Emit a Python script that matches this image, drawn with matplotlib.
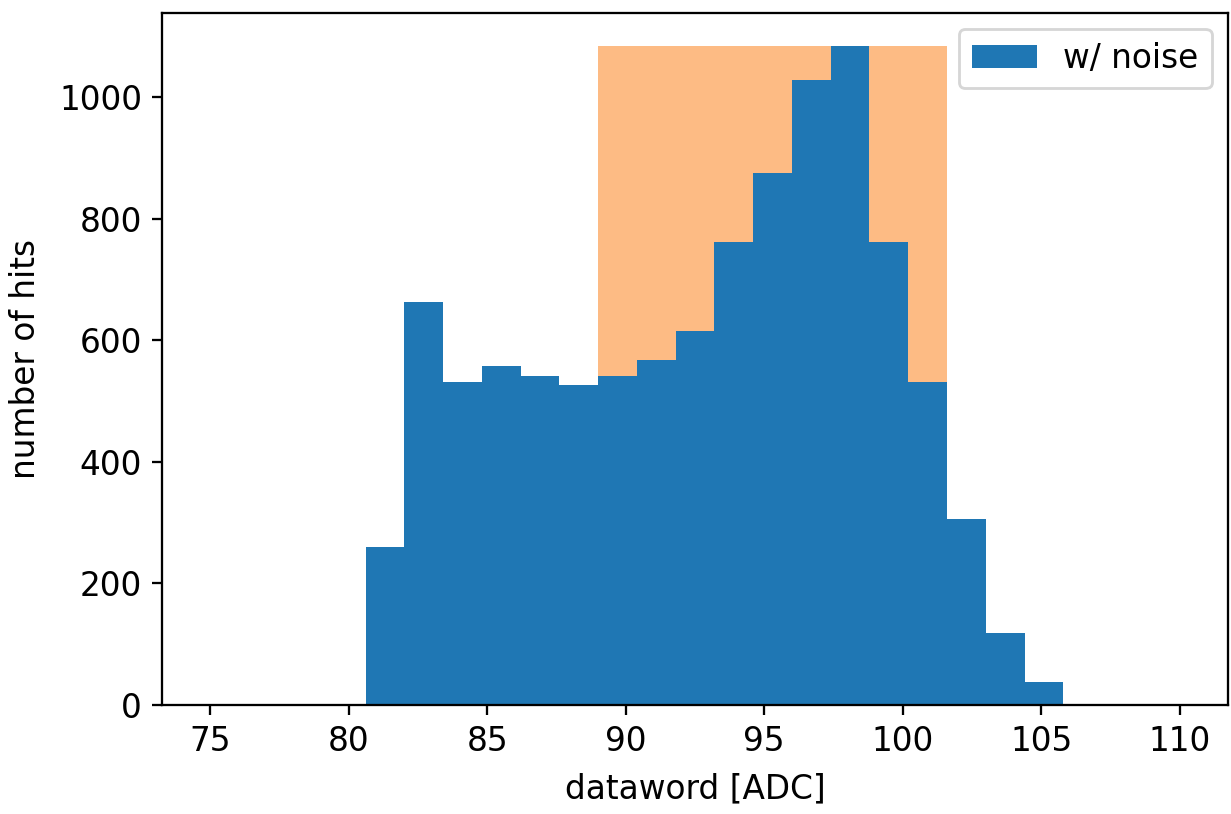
import numpy as np
import matplotlib
matplotlib.use("Agg")
import matplotlib.pyplot as plt

# histogram bins: 25 bins over 75..110 (width 1.4)
bin_lo = 75.0
bin_hi = 110.0
n_bins = 25

# counts, from the first non-empty bin (80.6) on
first_bin = 4
counts_noise = [260, 663, 531, 557, 541, 526, 541, 567, 615, 761,
                875, 1028, 1085, 761, 531, 306, 118, 38]

# highlighted window (orange), edges in ADC
win_lo = 89.0
win_hi = 101.6

edges = np.linspace(bin_lo, bin_hi, n_bins + 1)
counts = np.zeros(n_bins)
counts[first_bin:first_bin + len(counts_noise)] = counts_noise

plt.rcParams['font.size'] = 11.5

dpi = 205
fig = plt.figure(figsize=(1231 / dpi, 814 / dpi), dpi=dpi)
ax = fig.add_axes([0.1316, 0.1339, 0.866, 0.8507])

# orange window behind the histogram, as tall as the highest bin
ax.bar(win_lo, counts.max(), width=win_hi - win_lo, align='edge',
       color='#fdbb84', linewidth=0)
ax.hist(edges[:-1], bins=edges, weights=counts, color='#1f77b4',
        label='w/ noise')

ax.set_xlabel('dataword [ADC]', labelpad=5)
ax.set_ylabel('number of hits', labelpad=6)
ax.set_xticks([75, 80, 85, 90, 95, 100, 105, 110])
ax.legend(loc='upper right')

fig.savefig('out.png', dpi=dpi)
